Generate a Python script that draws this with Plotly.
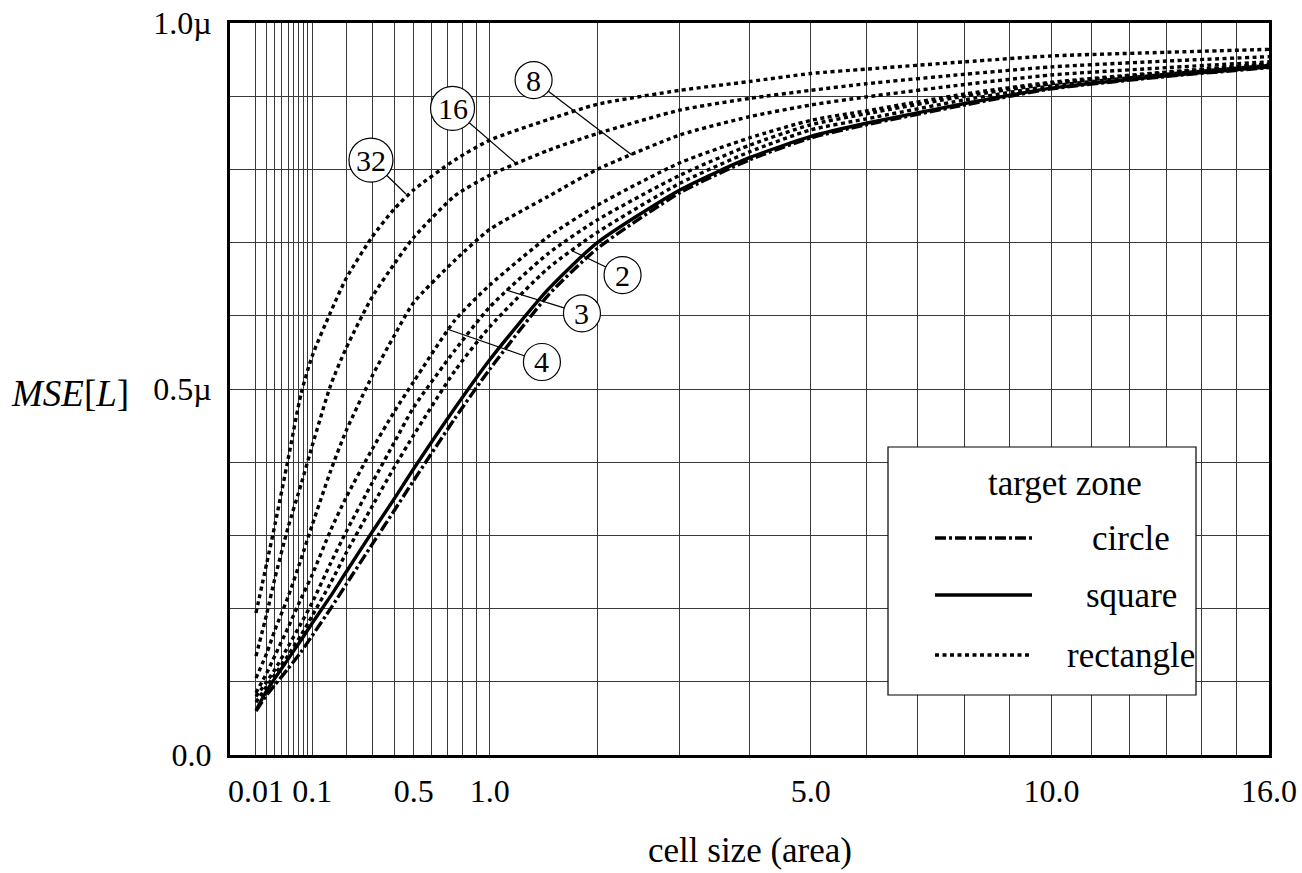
import numpy as np
import plotly.graph_objects as go

# ---------------- data ----------------
cell_area = [0.01, 0.02, 0.03, 0.05, 0.075, 0.1, 0.15, 0.2, 0.3, 0.4, 0.5,
             0.75, 1.0, 1.5, 2, 3, 4, 5, 6, 8, 10, 13, 16]

mse_circle = [0.060, 0.082, 0.096, 0.118, 0.141, 0.163, 0.200, 0.233, 0.288, 0.334, 0.375,
              0.460, 0.527, 0.628, 0.692, 0.768, 0.813, 0.843, 0.861, 0.888, 0.910, 0.927, 0.939]
mse_square = [0.061, 0.088, 0.105, 0.131, 0.157, 0.180, 0.217, 0.250, 0.305, 0.350, 0.391,
              0.474, 0.540, 0.636, 0.700, 0.772, 0.816, 0.845, 0.863, 0.890, 0.911, 0.928, 0.940]
mse_rect_2 = [0.072, 0.094, 0.110, 0.136, 0.164, 0.190, 0.235, 0.276, 0.340, 0.393, 0.437,
              0.525, 0.585, 0.665, 0.714, 0.781, 0.824, 0.854, 0.869, 0.895, 0.914, 0.930, 0.942]
mse_rect_3 = [0.080, 0.100, 0.117, 0.148, 0.180, 0.208, 0.262, 0.305, 0.372, 0.427, 0.475,
              0.553, 0.612, 0.685, 0.731, 0.792, 0.833, 0.861, 0.876, 0.900, 0.917, 0.932, 0.943]
mse_rect_4 = [0.085, 0.112, 0.136, 0.174, 0.214, 0.246, 0.307, 0.352, 0.418, 0.469, 0.510,
              0.594, 0.642, 0.708, 0.751, 0.809, 0.843, 0.867, 0.880, 0.903, 0.919, 0.933, 0.944]
mse_rect_8 = [0.105, 0.139, 0.171, 0.216, 0.268, 0.314, 0.388, 0.443, 0.518, 0.573, 0.618,
              0.676, 0.718, 0.763, 0.800, 0.847, 0.872, 0.888, 0.899, 0.916, 0.929, 0.939, 0.947]
mse_rect_16 = [0.135, 0.193, 0.242, 0.311, 0.370, 0.422, 0.505, 0.556, 0.626, 0.671, 0.707,
               0.764, 0.792, 0.826, 0.849, 0.881, 0.897, 0.908, 0.917, 0.930, 0.940, 0.948, 0.954]
mse_rect_32 = [0.194, 0.262, 0.315, 0.404, 0.494, 0.545, 0.605, 0.651, 0.708, 0.746, 0.772,
               0.813, 0.840, 0.868, 0.889, 0.908, 0.920, 0.931, 0.937, 0.947, 0.955, 0.960, 0.964]

rect_ratios = ["2", "3", "4", "8", "16", "32"]
rect_series = [mse_rect_2, mse_rect_3, mse_rect_4, mse_rect_8, mse_rect_16, mse_rect_32]

# curve labels: text, label centre (area, mse), point on the curve (area, mse)
label_text = ["8", "16", "32", "2", "3", "4"]
label_area = [1.366, 0.734, 0.2945, 2.284, 1.836, 1.442]
label_mse = [0.922, 0.8835, 0.8128, 0.6557, 0.6034, 0.5369]
point_area = [2.394, 1.220, 0.4589, 1.733, 1.131, 0.6977]
point_mse = [0.8197, 0.8074, 0.7664, 0.6889, 0.6352, 0.5820]

x_tick_values = [0.01, 0.1, 0.5, 1.0, 5.0, 10.0, 16.0]
x_tick_labels = ["0.01", "0.1", "0.5", "1.0", "5.0", "10.0", "16.0"]
x_grid_values = ([0.02, 0.03, 0.04, 0.05, 0.06, 0.07, 0.08, 0.09,
                  0.2, 0.3, 0.4, 0.6, 0.7, 0.8, 0.9] +
                 [2, 3, 4, 6, 7, 8, 9, 11, 12, 13, 14, 15])
y_tick_values = [0.0, 0.5, 1.0]
y_tick_labels = ["0.0", "0.5\u00b5", "1.0\u00b5"]
y_grid_values = [0.1, 0.2, 0.3, 0.4, 0.6, 0.7, 0.8, 0.9]

# ---------------- styling ----------------
FONT = "Liberation Serif"
DOT = "4px,3.5px"
DASHDOT = "11px,3px,3px,3px"
GRID = "#3a3a3a"


def sx(v):
    """square-root scale used by the horizontal axis"""
    return np.sqrt(np.asarray(v, dtype=float))


fig = go.Figure()

for name, ys in zip(rect_ratios, rect_series):
    fig.add_trace(go.Scatter(x=sx(cell_area), y=ys, mode="lines", name="rectangle " + name,
                             line=dict(color="black", width=3.4, dash=DOT, shape="spline", smoothing=0.6),
                             showlegend=False))

fig.add_trace(go.Scatter(x=sx(cell_area), y=mse_circle, mode="lines", name="circle",
                         line=dict(color="black", width=3.4, dash=DASHDOT, shape="spline", smoothing=0.6),
                         showlegend=False))
fig.add_trace(go.Scatter(x=sx(cell_area), y=mse_square, mode="lines", name="square",
                         line=dict(color="black", width=3.4, shape="spline", smoothing=0.6),
                         showlegend=False))

shapes = []
annotations = []

# leader lines + circled labels
for t, la, lm, pa, pm in zip(label_text, label_area, label_mse, point_area, point_mse):
    shapes.append(dict(type="line", xref="x", yref="y", x0=float(sx(la)), y0=lm,
                       x1=float(sx(pa)), y1=pm, line=dict(color="black", width=1.2), layer="above"))
for t, la, lm in zip(label_text, label_area, label_mse):
    r = 18.5 if len(t) == 1 else 22
    shapes.append(dict(type="circle", xref="x", yref="y", xsizemode="pixel", ysizemode="pixel",
                       xanchor=float(sx(la)), yanchor=lm, x0=-r, x1=r, y0=-r, y1=r,
                       fillcolor="white", line=dict(color="black", width=1.2), layer="above"))
    annotations.append(dict(x=float(sx(la)), y=lm, xref="x", yref="y", text=t, showarrow=False,
                            font=dict(family=FONT, size=30, color="black"),
                            xanchor="center", yanchor="middle"))

# custom legend box (paper coordinates of the plot area)
PL, PR, PT, PB = 230, 1269, 23, 755


def px(xp):
    return (xp - PL) / (PR - PL)


def py(yp):
    return (PB - yp) / (PB - PT)


shapes.append(dict(type="rect", xref="paper", yref="paper", x0=px(888), x1=px(1196),
                   y0=py(695), y1=py(447), fillcolor="white",
                   line=dict(color="black", width=1.2), layer="above"))
annotations.append(dict(x=px(1065), y=py(483), xref="paper", yref="paper", text="target zone",
                        showarrow=False, font=dict(family=FONT, size=35, color="black"),
                        xanchor="center", yanchor="middle"))
legend_names = ["circle", "square", "rectangle"]
legend_dash = [DASHDOT, "solid", DOT]
legend_y = [538, 595, 655]
for nm, ds, yy in zip(legend_names, legend_dash, legend_y):
    shapes.append(dict(type="line", xref="paper", yref="paper", x0=px(935), x1=px(1032),
                       y0=py(yy), y1=py(yy), line=dict(color="black", width=3.4, dash=ds),
                       layer="above"))
    annotations.append(dict(x=px(1131), y=py(yy), xref="paper", yref="paper", text=nm,
                            showarrow=False, font=dict(family=FONT, size=35, color="black"),
                            xanchor="center", yanchor="middle"))

# axis titles
annotations.append(dict(x=px(749.5), y=py(850), xref="paper", yref="paper",
                        text="cell size (area)", showarrow=False,
                        font=dict(family=FONT, size=35, color="black"),
                        xanchor="center", yanchor="middle"))
annotations.append(dict(x=px(70), y=py(393), xref="paper", yref="paper",
                        text="<i>MSE</i>[<i>L</i>]", showarrow=False,
                        font=dict(family=FONT, size=37, color="black"),
                        xanchor="center", yanchor="middle"))

fig.update_layout(
    width=1302, height=873, autosize=False,
    margin=dict(l=PL, r=1302 - PR, t=PT, b=873 - PB, pad=0, autoexpand=False),
    paper_bgcolor="white", plot_bgcolor="white",
    font=dict(family=FONT, color="black"),
    shapes=shapes, annotations=annotations,
    showlegend=False,
)

fig.update_xaxes(
    range=[0, 4], tickmode="array", tickvals=sx(x_tick_values), ticktext=x_tick_labels,
    ticks="", showgrid=True, gridcolor=GRID, gridwidth=1, zeroline=False, automargin=False,
    showline=True, linecolor="black", linewidth=3, mirror=True,
    tickfont=dict(family=FONT, size=32, color="black"), ticklabelstandoff=6,
    minor=dict(tickmode="array", tickvals=sx(x_grid_values), showgrid=True,
               gridcolor=GRID, gridwidth=1, ticks=""),
)
fig.update_yaxes(
    range=[0, 1], tickmode="array", tickvals=y_tick_values, ticktext=y_tick_labels,
    ticks="", showgrid=True, gridcolor=GRID, gridwidth=1, zeroline=False, automargin=False,
    showline=True, linecolor="black", linewidth=3, mirror=True,
    tickfont=dict(family=FONT, size=32, color="black"), ticklabelstandoff=9,
    minor=dict(tickmode="array", tickvals=y_grid_values, showgrid=True,
               gridcolor=GRID, gridwidth=1, ticks=""),
)

fig.write_html(
    "out.html",
    config={"displayModeBar": False, "staticPlot": True},
    post_script="document.body.style.margin='0';document.body.style.padding='0';"
                "document.body.style.overflow='hidden';",
)
